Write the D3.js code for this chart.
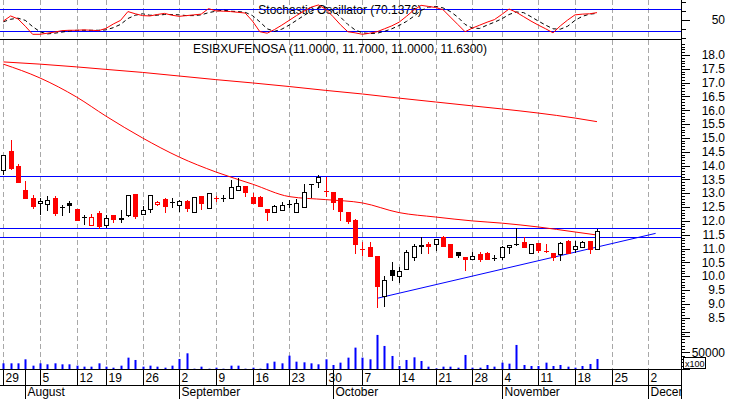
<!DOCTYPE html>
<html><head><meta charset="utf-8">
<script src="https://cdn.jsdelivr.net/npm/d3@7"></script>
<style>body{margin:0;background:#fff;} svg{display:block;font-family:"Liberation Sans",Arial,sans-serif;}</style>
</head><body><svg id="c" width="730" height="399"></svg>
<script>
// ---------- DATA ----------
const dates = ["2002-07-29","2002-07-30","2002-07-31","2002-08-01","2002-08-02",
"2002-08-05","2002-08-06","2002-08-07","2002-08-08","2002-08-09",
"2002-08-12","2002-08-13","2002-08-14","2002-08-16",
"2002-08-19","2002-08-20","2002-08-21","2002-08-22","2002-08-23",
"2002-08-26","2002-08-27","2002-08-28","2002-08-29","2002-08-30",
"2002-09-02","2002-09-03","2002-09-04","2002-09-05","2002-09-06",
"2002-09-09","2002-09-10","2002-09-11","2002-09-12","2002-09-13",
"2002-09-16","2002-09-17","2002-09-18","2002-09-19","2002-09-20",
"2002-09-23","2002-09-24","2002-09-25","2002-09-26","2002-09-27",
"2002-09-30","2002-10-01","2002-10-02","2002-10-03","2002-10-04",
"2002-10-07","2002-10-08","2002-10-09","2002-10-10","2002-10-11",
"2002-10-14","2002-10-15","2002-10-16","2002-10-17","2002-10-18",
"2002-10-21","2002-10-22","2002-10-23","2002-10-24","2002-10-25",
"2002-10-28","2002-10-29","2002-10-30","2002-10-31",
"2002-11-04","2002-11-05","2002-11-06","2002-11-07","2002-11-08",
"2002-11-11","2002-11-12","2002-11-13","2002-11-14","2002-11-15",
"2002-11-18","2002-11-19","2002-11-20","2002-11-21"];
const futureDates = ["2002-11-22","2002-11-25","2002-11-26","2002-11-27","2002-11-28","2002-11-29",
"2002-12-02","2002-12-03","2002-12-04","2002-12-05","2002-12-06"];
const monthNames = ["January","February","March","April","May","June","July","August","September","October","November","December"];

const open = [13.83,14.53,13.99,13.12,12.84,12.64,12.60,12.84,12.52,12.64,
 12.43,12.15,11.86,12.30,11.84,12.20,12.09,12.22,12.97,12.24,
 12.42,12.60,12.79,12.67,12.58,12.72,12.33,12.90,12.48,12.82,
 12.83,12.84,13.12,13.26,12.88,12.88,12.43,12.33,12.39,12.61,
 12.33,12.51,13.33,13.40,13.09,13.03,12.82,12.33,12.03,10.97,
 11.05,10.73,9.28,10.22,10.02,10.25,10.68,11.13,11.18,11.16,
 11.41,11.15,10.86,10.68,10.61,10.79,10.83,10.65,10.68,11.07,
 11.16,11.25,10.83,11.19,10.93,10.83,10.80,11.27,10.97,11.07,
 11.27,11.00];
const high = [14.38,14.93,14.06,13.44,12.94,12.84,12.90,12.90,12.57,12.72,
 12.43,12.21,12.24,12.36,12.21,12.20,12.39,12.94,12.97,12.55,
 12.94,12.72,12.84,12.82,12.74,12.74,12.85,12.90,13.00,12.90,
 12.94,13.48,13.54,13.26,13.00,12.90,12.43,12.58,12.69,12.76,
 12.78,13.33,13.34,13.65,13.58,13.06,12.82,12.33,12.06,11.25,
 11.25,10.73,10.01,10.52,10.34,10.95,11.16,11.41,11.22,11.33,
 11.45,11.15,10.86,10.68,10.86,10.86,10.89,10.77,11.09,11.13,
 11.73,11.41,11.15,11.19,11.16,10.83,11.25,11.31,11.28,11.28,
 11.27,11.70];
const low = [13.69,13.88,13.40,12.84,12.48,12.26,12.40,12.21,12.21,12.33,
 12.03,11.88,11.86,11.75,11.79,11.97,11.97,12.18,12.12,12.24,
 12.33,12.58,12.33,12.51,12.37,12.37,12.33,12.42,12.48,12.73,
 12.72,12.82,13.12,12.90,12.66,12.55,12.03,12.33,12.39,12.51,
 12.33,12.51,12.88,13.24,12.90,12.42,12.03,11.91,10.85,10.77,
 10.73,8.90,8.92,9.86,9.80,10.25,10.59,10.85,10.83,10.95,
 11.09,10.71,10.68,10.22,10.61,10.56,10.61,10.59,10.61,10.85,
 11.13,11.05,10.83,10.89,10.86,10.59,10.59,10.83,10.89,11.07,
 10.83,11.00];
const close = [14.38,13.90,13.42,12.84,12.55,12.72,12.76,12.30,12.52,12.57,
 12.03,12.15,12.13,11.82,12.12,12.06,12.07,12.94,12.17,12.38,
 12.94,12.69,12.55,12.67,12.72,12.46,12.85,12.63,13.00,12.82,
 12.83,13.22,13.25,13.05,12.66,12.55,12.33,12.55,12.56,12.61,
 12.64,13.06,13.33,13.60,13.09,12.67,12.37,12.00,11.16,10.97,
 10.73,9.65,9.86,10.04,10.19,10.89,11.09,11.11,11.09,11.33,
 11.09,10.71,10.77,10.61,10.73,10.63,10.61,10.65,11.05,11.13,
 11.16,11.05,11.15,10.95,10.93,10.68,11.19,10.83,11.09,11.23,
 10.97,11.63];
// volume in hundreds of shares (axis shows x100)
const volume = [17000,17000,17000,29000,10000,17000,14000,17000,14000,14000,
 10000,7000,7000,17000,7000,4000,10000,34000,27000,7000,
 10000,7000,4000,10000,30000,47000,1000,7000,1000,4000,
 1000,10000,10000,1000,4000,1000,17000,22000,17000,40000,
 22000,20000,17000,14000,29000,12000,19000,34000,64000,34000,
 29000,102000,69000,39000,9000,27000,35000,24000,7000,2000,
 7000,7000,4000,42000,4000,4000,12000,7000,19000,16000,
 72000,12000,9000,9000,19000,9000,12000,7000,4000,9000,
 15000,30000];
const stochK = [47,61,53,33,11,11,14,17,21,22, 22,23,22,21,27,39,49,73,67,62,
 61,65,68,63,60,62,64,66,81,75, 74,73,71,69,47,18,14,24,36,49,
 62,74,85,91,79,59,37,18,15,11, 14,18,26,34,44,60,77,90,87,84,
 78,58,38,18,28,36,44,51,65,80, 71,59,47,36,26,15,34,50,64,66, 67,70.14];
const stochD = [45,52,55,49,32,18,12,14,17,20, 22,22,22,22,23,29,38,54,63,67,
 63,63,65,65,64,62,62,64,70,74, 77,74,73,71,62,45,26,19,25,36,
 49,62,74,83,85,76,58,38,23,15, 13,14,19,26,35,46,60,76,85,87,
 83,73,58,38,28,27,36,44,53,65, 72,70,59,47,36,26,25,33,49,60, 66,68];
// moving averages sampled at the trading-day indices below
const maIdx   = [0,5,10,14,19,24,29,34,39,44,49,54,59,64,68,73,78,81];
const maShort = [17.67,17.17,16.48,15.79,15.00,14.31,13.77,13.33,12.88,12.77,12.65,12.30,12.14,12.00,11.92,11.78,11.60,11.49];
const maLong  = [17.75,17.67,17.57,17.48,17.37,17.24,17.11,16.99,16.86,16.72,16.59,16.44,16.30,16.16,16.05,15.90,15.72,15.59];
const hLevels = [13.61, 11.73, 11.42];
const trendline = [[51, 9.20], [89, 11.55]];
const stochLevels = [80, 20];
const priceTickLabels = [8.5,9.0,9.5,10.0,10.5,11.0,11.5,12.0,12.5,13.0,13.5,14.0,14.5,15.0,15.5,16.0,16.5,17.0,17.5,18.0];
const stochTickLabels = [50];
const volTickLabels = [50000];
const stochTitle = "Stochastic Oscillator (70.1376)";
const priceTitle = "ESIBXUFENOSA (11.0000, 11.7000, 11.0000, 11.6300)";

// ---------- CHART ----------
const svg = d3.select("#c");
const R = 681;               // right edge of plot
const px = v => Math.round(v) + 0.5;
const x = d3.scaleLinear().domain([0, 88]).range([3.3, 648.3]);
const y = d3.scaleLinear().domain([8.5, 18]).range([317.7, 55]);
const yS = d3.scaleLinear().domain([20, 80]).range([31, 9]);
const yV = d3.scaleLinear().domain([0, 50000]).range([369, 352.3]);
const parse = d3.timeParse("%Y-%m-%d");
const allDates = dates.concat(futureDates).map(parse);

svg.append("rect").attr("width",730).attr("height",399).attr("fill","#fff");

// week starts & month starts
const weekIdx = [], monthIdx = [];
allDates.forEach((d,i)=>{
  if (i===0 || +d3.timeMonday.floor(d) !== +d3.timeMonday.floor(allDates[i-1])) weekIdx.push(i);
  if (i>0 && d.getMonth() !== allDates[i-1].getMonth()) monthIdx.push(i);
});

// vertical dashed gridlines
svg.append("g").selectAll("line").data(weekIdx).join("line")
  .attr("x1", i=>px(x(i))).attr("x2", i=>px(x(i)))
  .attr("y1", 0).attr("y2", 369)
  .attr("stroke", "#a8a8a8").attr("stroke-dasharray","5,3");

// ---- oscillator panel ----
svg.append("text").attr("x", 340).attr("y", 14).attr("text-anchor","middle")
  .attr("font-size", 12).text(stochTitle);
svg.append("g").selectAll("line").data(stochLevels).join("line")
  .attr("x1",0).attr("x2",R).attr("y1",v=>px(yS(v))).attr("y2",v=>px(yS(v)))
  .attr("stroke","#0000ff");
const sLine = d3.line().x((v,i)=>x(i)).y(v=>yS(v));
svg.append("path").attr("d", sLine(stochD)).attr("fill","none")
  .attr("stroke","#000").attr("stroke-dasharray","4,3");
svg.append("path").attr("d", sLine(stochK)).attr("fill","none").attr("stroke","#ff0000");
svg.append("line").attr("x1",0).attr("x2",R).attr("y1",39.5).attr("y2",39.5).attr("stroke","#000");

// ---- price panel ----
svg.append("text").attr("x", 340).attr("y", 53).attr("text-anchor","middle")
  .attr("font-size", 12).text(priceTitle);
svg.append("g").selectAll("line").data(hLevels).join("line")
  .attr("x1",0).attr("x2",R).attr("y1",v=>px(y(v))).attr("y2",v=>px(y(v)))
  .attr("stroke","#0000ff");
const maLine = d3.line().x((v,k)=>x(maIdx[k])).y(v=>y(v)).curve(d3.curveMonotoneX);
svg.append("path").attr("d", maLine(maLong)).attr("fill","none").attr("stroke","#ff0000");
svg.append("path").attr("d", maLine(maShort)).attr("fill","none").attr("stroke","#ff0000");
svg.append("line")
  .attr("x1", x(trendline[0][0])).attr("y1", y(trendline[0][1]))
  .attr("x2", x(trendline[1][0])).attr("y2", y(trendline[1][1]))
  .attr("stroke","#0000ff");

const candles = dates.map((d,i)=>{
  const pc = i>0 ? close[i-1] : open[i];
  return {i, o:open[i], h:high[i], l:low[i], c:close[i], col: close[i] >= pc ? "#000000" : "#ff0000"};
});
const cg = svg.append("g");
candles.forEach(d=>{
  const cx = Math.round(x(d.i));
  cg.append("line").attr("x1",cx+0.5).attr("x2",cx+0.5)
    .attr("y1",Math.round(y(d.h))).attr("y2",Math.round(y(d.l))+1).attr("stroke",d.col);
  const yt = Math.round(y(Math.max(d.o,d.c))), yb = Math.round(y(Math.min(d.o,d.c)));
  if (d.c > d.o) {
    cg.append("rect").attr("x",cx-1.5).attr("y",yt+0.5).attr("width",4).attr("height",Math.max(1,yb-yt))
      .attr("fill","#fff").attr("stroke",d.col);
  } else if (d.c < d.o) {
    cg.append("rect").attr("x",cx-2).attr("y",yt).attr("width",5).attr("height",Math.max(1,yb-yt+1))
      .attr("fill",d.col);
  } else {
    cg.append("line").attr("x1",cx-2).attr("x2",cx+3).attr("y1",yt+0.5).attr("y2",yt+0.5).attr("stroke",d.col);
  }
});

// ---- volume ----
svg.append("g").selectAll("rect").data(volume).join("rect")
  .attr("x",(v,i)=>Math.round(x(i))-0.5).attr("width",2)
  .attr("y",v=>yV(v)).attr("height",v=>369-yV(v)).attr("fill","#0000ff");

// ---- right axis ----
const ax = svg.append("g");
ax.append("line").attr("x1",R+0.5).attr("x2",R+0.5).attr("y1",0).attr("y2",399).attr("stroke","#000");
// stochastic ticks
[0,25,50,75,100].forEach(v=>{
  ax.append("line").attr("x1",R).attr("x2",R+(v===50?9:5)).attr("y1",px(yS(v))).attr("y2",px(yS(v))).attr("stroke","#000");
});
ax.selectAll("text.s").data(stochTickLabels).join("text").attr("class","s")
  .attr("x",725).attr("y",v=>yS(v)).attr("dy","0.35em").attr("text-anchor","end")
  .attr("font-size",12).text(v=>v);
// price ticks
d3.range(79,185).forEach(k=>{
  const v = k/10;
  ax.append("line").attr("x1",R).attr("x2",R+(k%5===0?9:4))
    .attr("y1",px(y(v))).attr("y2",px(y(v))).attr("stroke","#000");
});
ax.selectAll("text.p").data(priceTickLabels).join("text").attr("class","p")
  .attr("x",725).attr("y",v=>y(v)).attr("dy","0.35em").attr("text-anchor","end")
  .attr("font-size",12).text(v=>v.toFixed(1));
// volume ticks
d3.range(0,110000,10000).forEach(v=>{
  ax.append("line").attr("x1",R).attr("x2",R+(v%50000===0?9:4))
    .attr("y1",px(yV(v))).attr("y2",px(yV(v))).attr("stroke","#000");
});
ax.selectAll("text.v").data(volTickLabels).join("text").attr("class","v")
  .attr("x",725).attr("y",v=>yV(v)).attr("dy","0.35em").attr("text-anchor","end")
  .attr("font-size",12).text(v=>v);
ax.append("rect").attr("x",683.5).attr("y",357.5).attr("width",22).attr("height",11)
  .attr("fill","#fff").attr("stroke","#000");
ax.append("text").attr("x",685).attr("y",366.5).attr("font-size",9).text("x100");

// ---- date axis ----
const da = svg.append("g");
da.append("line").attr("x1",0).attr("x2",R).attr("y1",369.5).attr("y2",369.5).attr("stroke","#000");
da.append("line").attr("x1",0).attr("x2",R).attr("y1",385.5).attr("y2",385.5).attr("stroke","#000");
weekIdx.filter(i=>x(i) < R).forEach(i=>{
  const xx = px(x(i));
  da.append("line").attr("x1",xx).attr("x2",xx).attr("y1",369).attr("y2",385).attr("stroke","#000");
  da.append("text").attr("x",xx+2).attr("y",382).attr("font-size",12).text(allDates[i].getDate());
});
const clip = svg.append("clipPath").attr("id","cl").append("rect").attr("x",0).attr("y",0).attr("width",R).attr("height",399);
monthIdx.filter(i=>x(i) < R).forEach(i=>{
  const xx = px(x(i));
  da.append("line").attr("x1",xx).attr("x2",xx).attr("y1",369).attr("y2",399).attr("stroke","#000");
  da.append("text").attr("x",xx+2).attr("y",396).attr("font-size",12).attr("clip-path","url(#cl)")
    .text(monthNames[allDates[i].getMonth()]);
});
</script></body></html>
